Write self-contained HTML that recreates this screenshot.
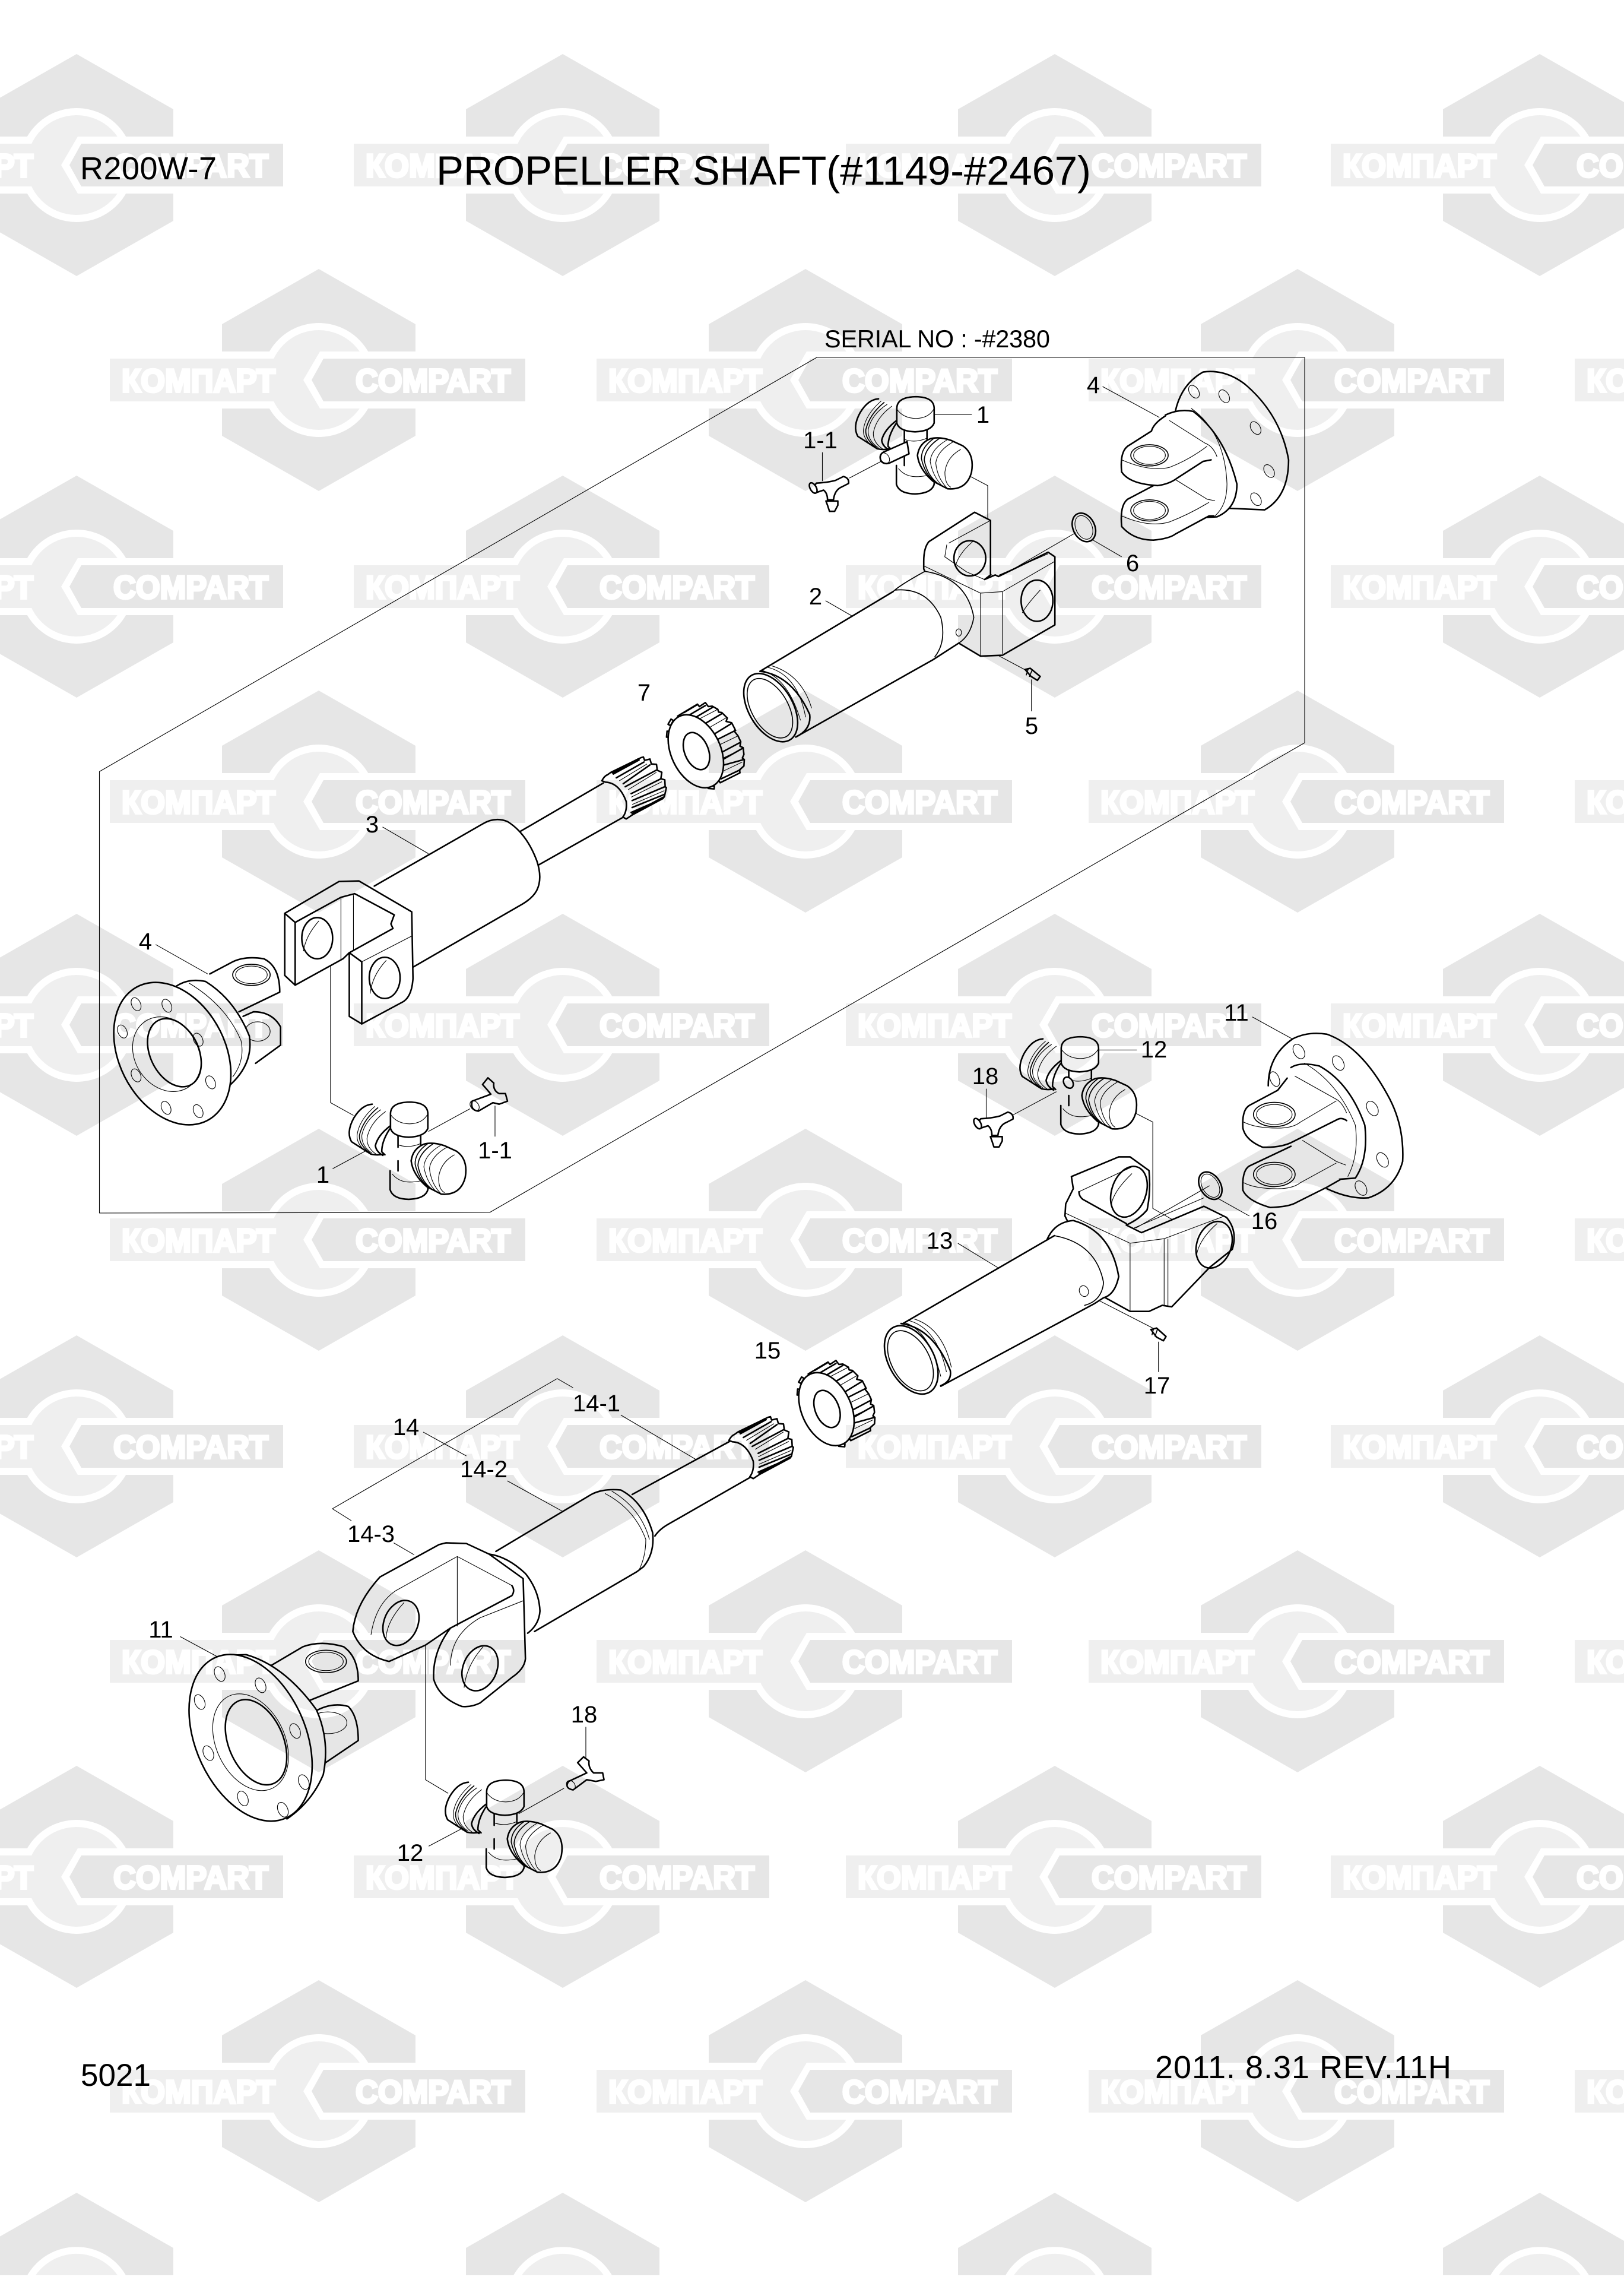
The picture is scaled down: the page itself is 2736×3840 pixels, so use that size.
<!DOCTYPE html>
<html><head><meta charset="utf-8"><title>R200W-7 PROPELLER SHAFT</title>
<style>
html,body{margin:0;padding:0;background:#fff}
#p{position:relative;width:2736px;height:3840px;overflow:hidden;background:#fff}
svg{position:absolute;left:0;top:0}
#d{mix-blend-mode:multiply}
path,ellipse,line,rect{vector-effect:non-scaling-stroke}
.k{fill:#fff;stroke:#000;stroke-width:2.6;stroke-linejoin:round;stroke-linecap:round}
.n{fill:none;stroke:#000;stroke-width:2.6;stroke-linejoin:round;stroke-linecap:round}
.m{fill:none;stroke:#000;stroke-width:1.7;stroke-linejoin:round;stroke-linecap:round}
.t{fill:none;stroke:#000;stroke-width:1.1;stroke-linejoin:round}
.w{fill:#fff;stroke:none}
text{font-family:"Liberation Sans",sans-serif;fill:#000}
.l{font-size:40px;text-anchor:middle}
.wm{font-weight:bold;font-size:55px;fill:#fff;stroke:#fff;stroke-width:4;stroke-linejoin:miter}
</style></head><body><div id="p">
<svg id="b" width="2736" height="3840" viewBox="0 0 2736 3840">
<defs>
<g id="logo">
<path fill="#e6e6e6" d="M0 -187L163 -94V94L0 187L-163 94V-94Z"/>
<rect x="-170" y="-48" width="340" height="96" fill="#fff"/>
<ellipse cx="0" cy="0" rx="96" ry="96" fill="#fff"/>
<ellipse cx="0" cy="0" rx="84" ry="84" fill="#efefef"/>
<rect x="-352" y="-36" width="340" height="72" fill="#efefef"/>
<path fill="#fff" d="M2 -48L-26 0L2 48H110V-48Z"/>
<path fill="#e6e6e6" d="M8 -36L-12 0L8 36H348V-36Z"/>
<text class="wm" x="-332" y="20" textLength="259" lengthAdjust="spacingAndGlyphs">КОМПАРТ</text>
<text class="wm" x="62" y="20" textLength="261" lengthAdjust="spacingAndGlyphs">COMPART</text>
</g>
<g id="logoT">
<path fill="#e6e6e6" d="M0 -187L163 -94V-48H83A96 96 0 0 0 -83 -48H-163V-94Z"/>
<path fill="#efefef" d="M-69 -48A84 84 0 0 1 69 -48Z"/>
</g>
</defs>
<use href="#logo" x="129" y="278"/><use href="#logo" x="948" y="278"/><use href="#logo" x="1777" y="278"/><use href="#logo" x="2594" y="278"/>
<use href="#logo" x="537" y="640"/><use href="#logo" x="1357" y="640"/><use href="#logo" x="2186" y="640"/><use href="#logo" x="3005" y="640"/>
<use href="#logo" x="129" y="988"/><use href="#logo" x="948" y="988"/><use href="#logo" x="1777" y="988"/><use href="#logo" x="2594" y="988"/>
<use href="#logo" x="537" y="1350"/><use href="#logo" x="1357" y="1350"/><use href="#logo" x="2186" y="1350"/><use href="#logo" x="3005" y="1350"/>
<use href="#logo" x="129" y="1726"/><use href="#logo" x="948" y="1726"/><use href="#logo" x="1777" y="1726"/><use href="#logo" x="2594" y="1726"/>
<use href="#logo" x="537" y="2088"/><use href="#logo" x="1357" y="2088"/><use href="#logo" x="2186" y="2088"/><use href="#logo" x="3005" y="2088"/>
<use href="#logo" x="129" y="2436"/><use href="#logo" x="948" y="2436"/><use href="#logo" x="1777" y="2436"/><use href="#logo" x="2594" y="2436"/>
<use href="#logo" x="537" y="2798"/><use href="#logo" x="1357" y="2798"/><use href="#logo" x="2186" y="2798"/><use href="#logo" x="3005" y="2798"/>
<use href="#logo" x="129" y="3161"/><use href="#logo" x="948" y="3161"/><use href="#logo" x="1777" y="3161"/><use href="#logo" x="2594" y="3161"/>
<use href="#logo" x="537" y="3522"/><use href="#logo" x="1357" y="3522"/><use href="#logo" x="2186" y="3522"/><use href="#logo" x="3005" y="3522"/>
<use href="#logoT" x="129" y="3880"/><use href="#logoT" x="948" y="3880"/><use href="#logoT" x="1777" y="3880"/><use href="#logoT" x="2594" y="3880"/>
</svg>

<svg id="d" width="2736" height="3840" viewBox="0 0 2736 3840">
<defs>
<g id="uj"><g transform="scale(.6696,.5102) translate(-512,-268)">
<path class="k" d="M463 458L463 520Q470 551 510 552Q552 550 558 520L558 470"/>
<path class="t" d="M468 468Q485 495 512 495Q540 495 558 482"/>
<path class="k" d="M418 238Q392 240 372 283Q352 330 366 362L415 403Q440 410 465 395L475 300L465 265"/>
<path class="t" d="M425 245Q385 290 380 340Q378 370 405 397M440 256Q400 290 392 340Q390 375 418 400M452 262Q412 300 405 350Q404 382 428 403"/>
<path class="m" d="M432 250Q395 290 386 340Q384 372 412 398"/>
<path class="n" d="M465 308Q432 340 426 375Q428 395 445 407"/>
<path class="w" d="M462 320L483 330L540 330L540 372L525 420L490 452L450 410Q440 380 462 320Z"/>
<path class="n" d="M483 340L483 380M540 340L540 372M483 425L483 458M462 320Q442 360 442 395L450 405"/>
<path class="t" d="M483 372Q510 385 540 368"/>
<path class="k" d="M464 270Q464 232 512 231Q558 232 558 270L558 318Q550 345 510 347Q470 345 464 318Z"/>
<path class="t" d="M464 272Q480 302 512 303Q545 302 558 270"/>
<path class="k" d="M548 370Q520 385 516 425Q520 470 555 510L592 535Q640 540 652 480Q660 420 630 393L600 375Q570 362 548 370Z"/>
<path class="m" d="M558 368Q525 398 526 436Q534 485 560 512M572 368Q535 400 533 440Q540 490 567 517"/>
<path class="t" d="M590 374Q550 405 548 445Q555 495 578 525M606 380Q566 410 562 450Q566 500 590 532M625 405Q590 430 585 480Q585 520 600 530"/>
</g></g>
<g id="ft"><g transform="scale(.6696,.5102) translate(-245,-495)">
<path class="k" d="M262 517Q290 515 310 508L330 495Q345 500 343 518L325 530Q308 540 305 572L290 572Q290 550 280 540L262 548Q250 535 262 517Z"/>
<ellipse class="k" cx="254" cy="533" rx="8" ry="18" transform="rotate(-20 254 533)"/>
<path class="k" d="M286 576L316 576L316 590L308 610L295 610L290 590Z"/>
</g></g>
<g id="gear"><g transform="scale(.3333)">
<path class="k" d="M185 258L285 198L295 210L325 190L340 210L360 208L388 224L392 238L408 240L436 268L430 285L458 292L475 325L472 335L490 358L504 388L500 410L516 418L520 452L512 470L522 478L520 510L498 530L500 545L400 595Z"/>
<path class="n" d="M218 240L285 200M240 255L325 205M275 265L360 215M320 298L410 245M365 352L455 297M383 378L478 330M410 440L500 392M418 475L515 420M420 505L518 478M405 575L500 530"/>
<path class="t" d="M280 280L388 224M335 322L432 266M393 405L490 358M415 470L510 425M418 535L512 490"/>
<rect class="k" x="-7" y="-15" width="14" height="30" transform="translate(150 290) rotate(30)"/>
<rect class="k" x="-7" y="-15" width="14" height="30" transform="translate(137 350) rotate(5)"/>
<rect class="k" x="-7" y="-15" width="14" height="30" transform="translate(148 410) rotate(-10)"/>
<rect class="k" x="-7" y="-15" width="14" height="30" transform="translate(172 478) rotate(-25)"/>
<rect class="k" x="-7" y="-15" width="14" height="30" transform="translate(210 535) rotate(-35)"/>
<rect class="k" x="-7" y="-15" width="14" height="30" transform="translate(255 585) rotate(-55)"/>
<rect class="k" x="-7" y="-15" width="14" height="30" transform="translate(305 608) rotate(-70)"/>
<rect class="k" x="-7" y="-15" width="14" height="30" transform="translate(355 618) rotate(-85)"/>
<ellipse class="k" cx="277" cy="436" rx="125" ry="195" transform="rotate(-25 277 436)"/>
<ellipse class="k" cx="280" cy="435" rx="60" ry="98" transform="rotate(-22 280 435)"/>
</g></g>
<g id="sp"><g transform="scale(.3333)">
<path class="k" d="M42 165Q55 140 70 135L88 122L240 48L252 45L258 62L285 55L292 80L318 82L322 112L345 122L340 155L360 160L362 195L368 200L358 245L350 255L195 338L165 358L148 348Q170 320 165 270Q130 175 60 172Z"/>
<path class="n" d="M95 125L225 55M100 131L230 60M115 150L255 70M150 180L285 85M160 195L320 110M190 230L340 155M195 265L360 195M195 300L355 235M190 325L350 255M195 332L352 248"/>
<path class="t" d="M130 165L270 80M175 210L318 122M190 248L345 170M195 285L358 215"/>
</g></g>
</defs>

<path class="t" d="M1376 602L2198 602L2198 1251L825 2042L167.5 2043L167.5 1299.5Z"/>

<!-- TOP RIGHT -->
<g transform="translate(1200,550) scale(.6696,.5102)">
<path class="t" d="M625 478L693 525L693 810M345 500L425 445M277 415L277 510M558 290L653 290M915 680L725 825M958 705L1030 760M285 905L355 958M625 1020L790 1135M803 1165L803 1270M982 198L1125 300M693 812L810 905"/>
<!-- flange 4 -->
<path class="k" d="M1165 280Q1180 190 1235 150Q1290 140 1340 190Q1430 290 1450 440Q1450 560 1390 605L1300 600"/>
<ellipse class="t" cx="1212" cy="215" rx="12" ry="22" transform="rotate(-20 1212 215)"/>
<ellipse class="t" cx="1288" cy="230" rx="12" ry="22" transform="rotate(-20 1288 230)"/>
<ellipse class="t" cx="1367" cy="335" rx="12" ry="22" transform="rotate(-20 1367 335)"/>
<ellipse class="t" cx="1401" cy="477" rx="12" ry="22" transform="rotate(-20 1401 477)"/>
<ellipse class="t" cx="1368" cy="570" rx="12" ry="22" transform="rotate(-20 1368 570)"/>
<path class="k" d="M1140 292Q1175 270 1210 280Q1290 360 1320 520Q1320 600 1270 628L1240 630"/>
<path class="t" d="M1205 270Q1290 350 1295 520Q1295 590 1265 625"/>
<path class="k" d="M1110 525L1045 570Q1025 590 1030 660Q1060 705 1110 705Q1150 700 1165 685L1250 625L1262 625"/>
<path class="k" d="M1140 295Q1110 320 1105 345L1045 395Q1025 415 1030 480Q1050 520 1120 525Q1150 520 1170 500L1235 445L1255 440"/>
<path class="t" d="M1150 310L1240 385Q1260 395 1270 430M1165 505L1245 570L1265 575M1245 395Q1200 440 1150 465Q1100 480 1030 440M1250 580Q1200 620 1150 645Q1100 665 1030 625"/>
<ellipse class="m" cx="1100" cy="425" rx="47" ry="35"/><ellipse class="t" cx="1100" cy="425" rx="40" ry="30"/>
<ellipse class="m" cx="1100" cy="607" rx="47" ry="35"/><ellipse class="t" cx="1100" cy="607" rx="40" ry="30"/>
<ellipse class="n" cx="935" cy="663" rx="28" ry="48" transform="rotate(-14 935 663)"/>
<ellipse class="t" cx="935" cy="663" rx="21" ry="40" transform="rotate(-14 935 663)"/>
<!-- yoke 2 -->
<path class="k" d="M545 710L660 613L700 640L700 820L685 835L712 820L720 825L845 745L862 760L862 985L730 1085L675 1088L620 1045L532 800L532 775Q532 730 545 710Z"/>
<path class="t" d="M595 715L700 640M590 720L585 760L640 810L685 835M532 790L675 880L730 875L862 775M675 880L675 1088M730 875L730 1080M722 820L845 750"/>
<ellipse class="n" cx="648" cy="765" rx="40" ry="58"/>
<ellipse class="n" cx="817" cy="905" rx="40" ry="68"/>
<path class="t" d="M825 870Q790 920 780 945M655 710Q620 750 612 790"/>
<!-- shaft 2 -->
<path class="w" d="M120 1140L455 875Q470 855 535 808Q640 830 658 960Q650 1020 620 1045L555 1100L210 1355Z"/>
<path class="n" d="M120 1138L455 875M210 1355L555 1100L620 1045"/>
<path class="m" d="M455 875Q470 855 535 808Q640 830 658 960Q650 1020 620 1045M460 870Q540 860 575 960Q590 1040 560 1090"/>
<path class="n" d="M120 1138Q200 1150 245 1280Q250 1330 210 1355"/>
<path class="t" d="M140 1125Q215 1150 235 1290M150 1120Q225 1150 250 1260M125 1135Q190 1160 222 1300"/>
<ellipse class="k" cx="147" cy="1258" rx="58" ry="118" transform="rotate(-20 147 1258)"/>
<ellipse class="m" cx="145" cy="1260" rx="48" ry="103" transform="rotate(-20 145 1260)"/>
<ellipse class="t" cx="620" cy="1010" rx="7" ry="12"/>
<path class="k" d="M787 1132L800 1128L825 1155L818 1168L802 1155Z"/>
<path class="m" d="M795 1130L790 1150M805 1133L798 1155"/>
</g>
<use href="#uj" x="1543" y="687"/>
<g transform="translate(1200,550) scale(.6696,.5102)">
<path class="k" d="M490 380L430 415Q418 425 425 445Q435 458 450 448L495 420Z"/>
<ellipse class="t" cx="434" cy="434" rx="11" ry="18" transform="rotate(-20 434 434)"/>
</g>
<use href="#ft" x="1364" y="802.5"/>
<use href="#gear" x="1080" y="1120"/>

<!-- LEFT MIDDLE -->
<g transform="translate(150,1250) scale(.7015,.5102)">
<path class="t" d="M705 280L815 368M160 668L285 765M555 660L580 670L580 1190L635 1232M585 1408L670 1345M815 1285L915 1210M975 1200L975 1302"/>
<path class="n" d="M1035 295L1235 135M1080 405L1280 250"/>
<path class="k" d="M685 475L945 270Q975 245 1005 262Q1050 300 1075 390Q1090 450 1075 490Q1065 515 1040 535L775 745"/>
<!-- flange 4 -->
<path class="k" d="M370 905L395 890Q440 890 460 940L460 1000L400 1060"/>
<ellipse class="t" cx="405" cy="955" rx="30" ry="32"/>
<path class="k" d="M290 765L345 725Q375 705 420 715Q458 740 458 825L360 890"/>
<ellipse class="m" cx="390" cy="768" rx="45" ry="35"/><ellipse class="t" cx="390" cy="768" rx="38" ry="29"/>
<path class="k" d="M210 805Q240 778 280 790Q350 850 385 970Q395 1060 340 1130"/>
<path class="t" d="M240 795Q330 870 365 985Q375 1050 345 1105"/>
<ellipse class="k" cx="200" cy="1028" rx="132" ry="240" transform="rotate(-14 200 1028)"/>
<ellipse class="t" cx="187" cy="1030" rx="80" ry="125" transform="rotate(-12 187 1030)"/>
<ellipse class="n" cx="205" cy="1025" rx="60" ry="115" transform="rotate(-14 205 1025)"/>
<ellipse class="t" cx="113" cy="865" rx="11" ry="22" transform="rotate(-14 113 865)"/>
<ellipse class="t" cx="187" cy="870" rx="11" ry="22" transform="rotate(-14 187 870)"/>
<ellipse class="t" cx="80" cy="955" rx="11" ry="22" transform="rotate(-14 80 955)"/>
<ellipse class="t" cx="262" cy="982" rx="11" ry="22" transform="rotate(-14 262 982)"/>
<ellipse class="t" cx="113" cy="1100" rx="11" ry="22" transform="rotate(-14 113 1100)"/>
<ellipse class="t" cx="292" cy="1123" rx="11" ry="22" transform="rotate(-14 292 1123)"/>
<ellipse class="t" cx="185" cy="1207" rx="11" ry="22" transform="rotate(-14 185 1207)"/>
<ellipse class="t" cx="262" cy="1218" rx="11" ry="22" transform="rotate(-14 262 1218)"/>
<!-- yoke 3 -->
<path class="k" d="M470 565L600 460L648 458L775 560L778 780Q775 845 750 860L655 930L625 905L625 695L610 715L495 802L470 770Z"/>
<path class="n" d="M470 565L495 595L605 512L638 500L733 570L725 600L730 615L625 695M495 595L495 802M625 695L655 725L655 930"/>
<path class="t" d="M605 515L605 720M635 505L635 690M655 725L775 640"/>
<ellipse class="n" cx="548" cy="647" rx="37" ry="68"/>
<ellipse class="n" cx="710" cy="778" rx="37" ry="68"/>
<path class="t" d="M552 590Q520 640 515 690M714 720Q680 770 675 830"/>
</g>
<use href="#sp" x="1000" y="1260"/>
<use href="#uj" x="690" y="1875"/>
<g transform="translate(150,1250) scale(.7015,.5102)">
<path class="k" d="M920 1185L965 1162Q955 1145 945 1130L958 1108L972 1125Q970 1150 985 1160L1000 1160L1005 1185L985 1195L970 1190L935 1218Q915 1215 920 1185Z"/>
<ellipse class="t" cx="926" cy="1200" rx="10" ry="17" transform="rotate(-20 926 1200)"/>
</g>

<!-- LOWER RIGHT -->
<g transform="translate(1400,1650) scale(.6378,.5102)">
<path class="t" d="M780 425L850 470L850 755L990 855M1000 680L805 820M1022 722L1105 780M1113 123L1225 200M708 232L808 232M410 360L410 460M480 447L610 360M335 870L440 950M865 1195L865 1295M670 1035L850 1150"/>
<path class="k" d="M1155 350Q1155 250 1220 195Q1260 170 1310 180Q1400 220 1470 380Q1515 480 1510 600Q1490 690 1420 720Q1370 725 1310 690"/>
<ellipse class="t" cx="1236" cy="237" rx="14" ry="25" transform="rotate(-20 1236 237)"/>
<ellipse class="t" cx="1340" cy="275" rx="14" ry="25" transform="rotate(-20 1340 275)"/>
<ellipse class="t" cx="1430" cy="425" rx="14" ry="25" transform="rotate(-20 1430 425)"/>
<ellipse class="t" cx="1457" cy="595" rx="14" ry="25" transform="rotate(-20 1457 595)"/>
<ellipse class="t" cx="1400" cy="688" rx="14" ry="25" transform="rotate(-20 1400 688)"/>
<ellipse class="t" cx="1172" cy="328" rx="12" ry="25" transform="rotate(-15 1172 328)"/>
<path class="k" d="M1215 290Q1240 270 1290 285Q1370 340 1410 480Q1420 590 1385 655L1330 660"/>
<path class="t" d="M1250 275Q1340 340 1385 480Q1395 580 1365 650"/>
<path class="k" d="M1215 550L1105 615Q1085 630 1088 695Q1100 730 1160 752Q1210 750 1230 735L1310 685L1345 660"/>
<path class="k" d="M1205 325L1180 365L1105 415Q1085 430 1088 490Q1095 530 1140 553Q1190 555 1220 535L1340 460Q1350 455 1362 465"/>
<path class="t" d="M1225 318L1335 395Q1350 405 1362 440M1245 530L1335 600L1360 612M1335 400L1240 470Q1220 490 1180 490Q1120 490 1090 470M1335 605L1240 670Q1220 690 1180 690Q1120 690 1090 670"/>
<ellipse class="m" cx="1171" cy="445" rx="55" ry="40"/><ellipse class="t" cx="1171" cy="445" rx="47" ry="33"/>
<ellipse class="m" cx="1171" cy="643" rx="55" ry="40"/><ellipse class="t" cx="1171" cy="643" rx="47" ry="33"/>
<ellipse class="n" cx="1002" cy="680" rx="28" ry="47" transform="rotate(-20 1002 680)"/>
<ellipse class="t" cx="1002" cy="680" rx="22" ry="40" transform="rotate(-20 1002 680)"/>
<!-- yoke 13 -->
<path class="k" d="M635 650L760 585L790 585L840 630Q845 700 835 760Q815 790 780 810L820 835L985 748L1045 785Q1075 830 1060 890L1000 950L900 1080L875 1075L840 1095L790 1095L725 1050L618 780L620 740L640 690Z"/>
<path class="t" d="M655 700L800 615M618 770L790 870L880 855L1040 780M790 870L790 1095M880 855L880 1075M890 855L890 1080M800 820L985 720"/>
<path class="n" d="M655 700Q655 715 665 725L780 805"/>
<ellipse class="n" cx="787" cy="700" rx="46" ry="85" transform="rotate(12 787 700)"/>
<ellipse class="n" cx="1012" cy="875" rx="46" ry="78" transform="rotate(12 1012 875)"/>
<path class="t" d="M795 640Q745 700 740 745M1020 805Q970 860 965 915"/>
<!-- shaft 13 -->
<path class="w" d="M200 1130L570 860Q590 800 640 795Q740 830 760 980Q750 1040 720 1050L695 1070L300 1340Z"/>
<path class="n" d="M190 1135L590 845M290 1342L695 1070L720 1050M570 860Q590 800 640 795Q740 830 760 980Q750 1040 720 1050"/>
<path class="m" d="M590 845Q700 870 720 1000Q715 1060 670 1075"/>
<path class="n" d="M185 1135Q270 1150 315 1290Q320 1325 290 1340"/>
<path class="t" d="M205 1125Q280 1150 305 1295M220 1120Q295 1150 318 1280M195 1132Q260 1160 290 1310"/>
<ellipse class="k" cx="212" cy="1255" rx="62" ry="118" transform="rotate(-20 212 1255)"/>
<ellipse class="m" cx="210" cy="1258" rx="52" ry="104" transform="rotate(-20 210 1258)"/>
<ellipse class="t" cx="668" cy="1028" rx="12" ry="18" transform="rotate(-10 668 1028)"/>
<path class="k" d="M845 1155L860 1150L885 1178L878 1192L860 1180Z"/>
<path class="m" d="M852 1152L848 1172M862 1155L856 1177"/>
</g>
<use href="#uj" x="1820" y="1765"/>
<g transform="translate(1400,1650) scale(.6378,.5102)">
<ellipse class="k" cx="627" cy="340" rx="12" ry="19" transform="rotate(-20 627 340)"/>
</g>
<use href="#ft" x="1641" y="1873"/>
<use href="#gear" x="1300" y="2228"/>

<!-- LOWER LEFT -->
<g transform="translate(250,2300) scale(.7653,.574)">
<path class="t" d="M405 420L900 38L935 65M405 420L447 455M1040 145L1205 275M605 195L700 265M790 338L915 430M540 520L585 555M617 1410L695 1355M963 1060L963 1150M815 1315L915 1240M70 795L160 860M565 755L610 790L610 1215L660 1255"/>
<path class="n" d="M1065 378L1280 222M1115 500Q1125 480 1145 465L1335 320"/>
<path class="k" d="M765 545L975 378Q1000 360 1040 365Q1090 400 1110 490Q1115 550 1090 590L1075 605L850 780"/>
<path class="t" d="M1005 375Q1070 420 1095 510Q1095 560 1080 600M1020 368Q1085 420 1103 510"/>
<path class="k" d="M750 553Q790 560 830 610Q860 660 862 720Q860 760 835 785"/>
<!-- flange 11 -->
<path class="k" d="M360 1020Q400 985 440 1000Q462 1030 462 1100L390 1165"/>
<ellipse class="t" cx="395" cy="1048" rx="42" ry="32"/>
<path class="k" d="M270 880L340 825Q380 805 430 825Q462 855 462 925L350 985"/>
<ellipse class="m" cx="391" cy="868" rx="45" ry="33"/><ellipse class="t" cx="391" cy="868" rx="38" ry="27"/>
<path class="k" d="M170 850L215 848Q300 880 370 1010Q400 1100 385 1200Q360 1280 305 1330"/>
<ellipse class="k" cx="225" cy="1092" rx="125" ry="250" transform="rotate(-14 225 1092)"/>
<ellipse class="t" cx="225" cy="1105" rx="78" ry="145" transform="rotate(-14 225 1105)"/>
<ellipse class="n" cx="237" cy="1105" rx="62" ry="128" transform="rotate(-14 237 1105)"/>
<ellipse class="t" cx="157" cy="905" rx="11" ry="22" transform="rotate(-14 157 905)"/>
<ellipse class="t" cx="247" cy="938" rx="11" ry="22" transform="rotate(-14 247 938)"/>
<ellipse class="t" cx="113" cy="987" rx="11" ry="22" transform="rotate(-14 113 987)"/>
<ellipse class="t" cx="323" cy="1072" rx="11" ry="22" transform="rotate(-14 323 1072)"/>
<ellipse class="t" cx="132" cy="1137" rx="11" ry="22" transform="rotate(-14 132 1137)"/>
<ellipse class="t" cx="342" cy="1222" rx="11" ry="22" transform="rotate(-14 342 1222)"/>
<ellipse class="t" cx="208" cy="1270" rx="11" ry="22" transform="rotate(-14 208 1270)"/>
<ellipse class="t" cx="296" cy="1303" rx="11" ry="22" transform="rotate(-14 296 1303)"/>
<!-- yoke 14 -->
<path class="k" d="M450 780Q455 700 510 620L640 525L655 520L700 522L750 553L825 625L830 860Q828 890 800 915L730 990Q710 1003 690 1000Q640 975 628 920Q625 840 665 770L610 820L530 868Q470 850 450 780Z"/>
<path class="t" d="M490 790Q500 700 545 660L680 560L800 645M680 560L680 765M665 880Q665 790 730 740L825 690"/>
<path class="n" d="M800 645Q808 660 800 675L665 770"/>
<ellipse class="n" cx="556" cy="755" rx="38" ry="67" transform="rotate(12 556 755)"/>
<ellipse class="n" cx="730" cy="888" rx="38" ry="67" transform="rotate(12 730 888)"/>
<path class="t" d="M563 695Q525 750 523 800M737 825Q700 880 695 945"/>
</g>
<use href="#sp" x="1214" y="2371"/>
<use href="#uj" x="852" y="3017"/>
<g transform="translate(250,2300) scale(.7653,.574)">
<path class="k" d="M925 1220L965 1195Q955 1180 945 1165L958 1148L970 1160Q968 1180 980 1195L1000 1195L1003 1215L985 1220L965 1215L935 1245Q915 1240 925 1220Z"/>
<ellipse class="t" cx="930" cy="1231" rx="9" ry="14" transform="rotate(-20 930 1231)"/>
</g>

<!-- labels -->
<text x="135" y="302" font-size="54" textLength="230">R200W-7</text>
<text x="735" y="311" font-size="69" textLength="1103">PROPELLER SHAFT(#1149-#2467)</text>
<text x="1389" y="585" font-size="41.5" textLength="380">SERIAL NO : -#2380</text>
<text x="136" y="3513" font-size="53" textLength="118">5021</text>
<text x="1946" y="3500" font-size="54" textLength="499">2011. 8.31 REV.11H</text>

<text class="l" x="1656" y="712">1</text><text class="l" x="1382" y="755">1-1</text><text class="l" x="1842" y="662">4</text>
<text class="l" x="1908" y="962">6</text><text class="l" x="1374" y="1018">2</text><text class="l" x="1738" y="1236">5</text>
<text class="l" x="1085" y="1180">7</text><text class="l" x="627" y="1402">3</text><text class="l" x="245" y="1599">4</text>
<text class="l" x="544" y="1992">1</text><text class="l" x="834" y="1951">1-1</text>
<text class="l" x="2083" y="1719">11</text><text class="l" x="1944" y="1781">12</text><text class="l" x="1660" y="1826">18</text>
<text class="l" x="2130" y="2070">16</text><text class="l" x="1583" y="2103">13</text><text class="l" x="1949" y="2347">17</text>
<text class="l" x="1293" y="2288">15</text><text class="l" x="1005" y="2377">14-1</text><text class="l" x="684" y="2417">14</text>
<text class="l" x="815" y="2488">14-2</text><text class="l" x="625" y="2597">14-3</text><text class="l" x="271" y="2758">11</text>
<text class="l" x="984" y="2901">18</text><text class="l" x="691" y="3134">12</text>
</svg>
</div></body></html>
